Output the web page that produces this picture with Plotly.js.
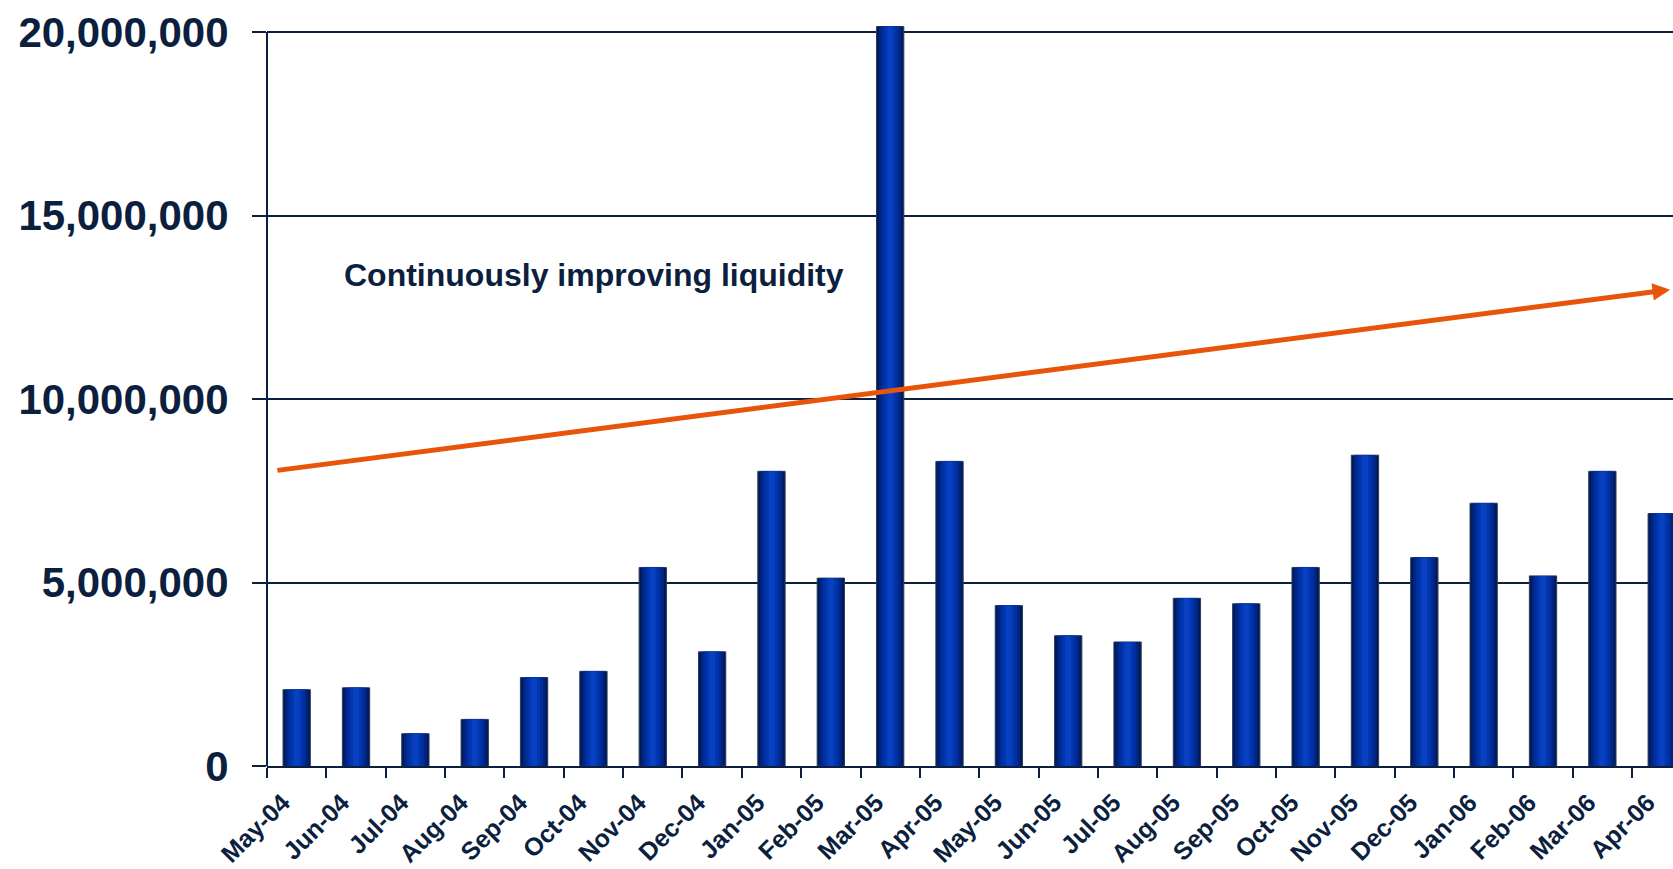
<!DOCTYPE html>
<html>
<head>
<meta charset="utf-8">
<script src="https://cdn.plot.ly/plotly-3.0.1.min.js"></script>
<style>html,body{margin:0;padding:0;background:#fff;}#chart{width:1673px;height:869px;}</style>
</head>
<body>
<div id="chart"></div>
<script>
// ---- data ----
const months = ["May-04","Jun-04","Jul-04","Aug-04","Sep-04","Oct-04","Nov-04","Dec-04",
  "Jan-05","Feb-05","Mar-05","Apr-05","May-05","Jun-05","Jul-05","Aug-05","Sep-05","Oct-05",
  "Nov-05","Dec-05","Jan-06","Feb-06","Mar-06","Apr-06"];
const volumes = [2080000, 2130000, 880000, 1270000, 2410000, 2580000, 5410000, 3110000,
  8030000, 5120000, 20150000, 8300000, 4370000, 3550000, 3380000, 4570000, 4420000, 5410000,
  8470000, 5680000, 7160000, 5180000, 8030000, 6880000];
const yTicks = [0, 5000000, 10000000, 15000000, 20000000];
const trendLabel = "Continuously improving liquidity";
const trendStart = {cat: -0.35, value: 8050000};
const trendEnd = {cat: 23.14, value: 12980000};

// ---- styling ----
const navy = "#0c1f3e";
const orange = "#e8550a";
const layerColors = ["#001a55", "#002480", "#002e9c", "#0036b0", "#0840c0"];
const layerWidths = [0.46, 0.38, 0.29, 0.20, 0.10];

const traces = layerColors.map((c, i) => ({
  type: "bar",
  x: months,
  y: volumes,
  width: layerWidths[i],
  marker: {color: c, line: {width: i === 0 ? 1 : 0, color: "#2c3d5e"}},
  hoverinfo: "skip",
  showlegend: false
}));

const layout = {
  width: 1673,
  height: 869,
  margin: {l: 267, r: 0, t: 21, b: 103, pad: 0},
  paper_bgcolor: "#ffffff",
  plot_bgcolor: "#ffffff",
  barmode: "overlay",
  showlegend: false,
  xaxis: {
    type: "category",
    range: [-0.5, 23.19],
    tickson: "boundaries",
    ticks: "outside",
    ticklen: 10,
    tickwidth: 2,
    tickcolor: navy,
    tickangle: -45,
    ticklabelstandoff: 10,
    ticklabelshift: -14,
    tickfont: {family: "Liberation Sans, Arial, sans-serif", size: 25, weight: 700, color: navy},
    showline: true,
    linecolor: navy,
    linewidth: 2,
    showgrid: false,
    zeroline: false,
    fixedrange: true
  },
  yaxis: {
    range: [0, 20300000],
    tickvals: yTicks,
    tickformat: ",d",
    ticks: "outside",
    ticklen: 14,
    tickwidth: 2,
    tickcolor: navy,
    ticklabelstandoff: 15,
    tickfont: {family: "Liberation Sans, Arial, sans-serif", size: 42, weight: 700, color: navy},
    showgrid: true,
    gridcolor: navy,
    gridwidth: 2,
    showline: false,
    zeroline: false,
    fixedrange: true
  },
  shapes: [{
    type: "line", xref: "paper", yref: "y",
    x0: 0, x1: 0, y0: 0, y1: yTicks[yTicks.length - 1],
    line: {color: navy, width: 2}
  }],
  annotations: [
    {
      x: trendEnd.cat, y: trendEnd.value, xref: "x", yref: "y",
      ax: trendStart.cat, ay: trendStart.value, axref: "x", ayref: "y",
      showarrow: true, arrowhead: 2, arrowsize: 0.7, arrowwidth: 5,
      arrowcolor: orange, text: ""
    },
    {
      x: 0.764, y: 13380000, xref: "x", yref: "y",
      xanchor: "left", yanchor: "middle", showarrow: false,
      text: trendLabel,
      font: {family: "Liberation Sans, Arial, sans-serif", size: 32, weight: 700, color: navy}
    }
  ]
};

Plotly.newPlot("chart", traces, layout, {displayModeBar: false, staticPlot: true});
</script>
</body>
</html>
